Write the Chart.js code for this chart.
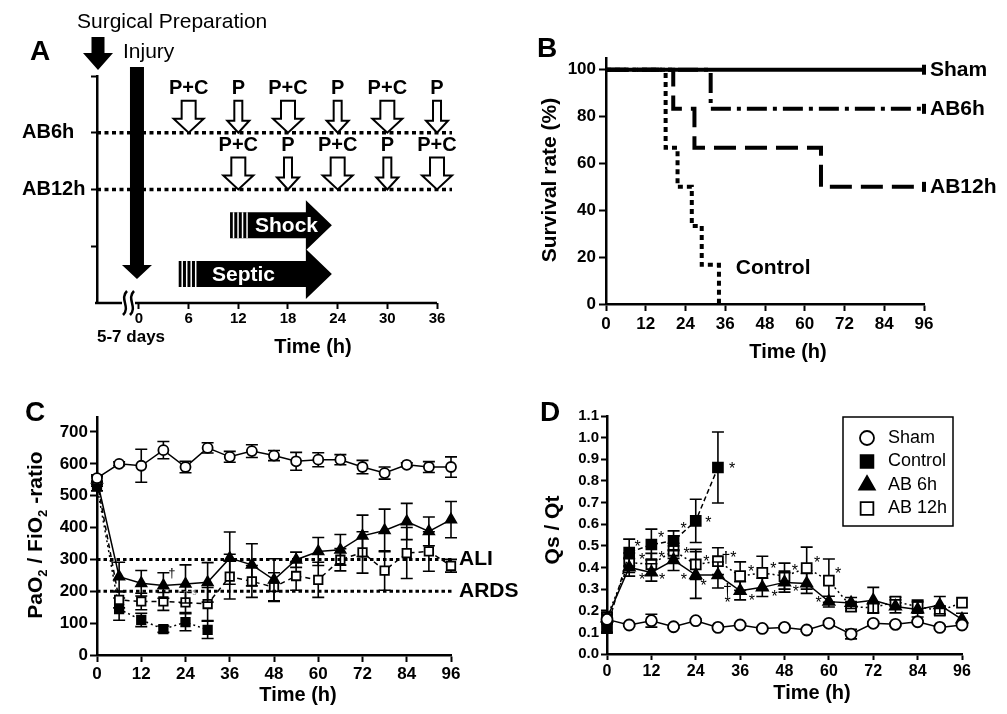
<!DOCTYPE html>
<html>
<head>
<meta charset="utf-8">
<title>Antibiotic timing: survival and lung function</title>
<script src="https://cdn.jsdelivr.net/npm/chart.js@4.4.1/dist/chart.umd.min.js"></script>
<style>
  html, body { margin: 0; padding: 0; background: #fff; }
  #page { position: relative; width: 1007px; height: 714px; overflow: hidden; background: #fff; }
  canvas { position: absolute; }
</style>
</head>
<body>
<div id="page">
  <canvas id="chartA" width="500" height="370" style="left:0;top:0"></canvas>
  <canvas id="chartB" width="507" height="370" style="left:500px;top:0"></canvas>
  <canvas id="chartC" width="530" height="344" style="left:0;top:370px"></canvas>
  <canvas id="chartD" width="507" height="344" style="left:500px;top:370px"></canvas>
</div>
<script>
// ---- panel A : protocol timeline ----
const hoursA = [0, 6, 12, 18, 24, 30, 36];
const dose6hTimes = [6, 12, 18, 24, 30, 36];
const dose6hLabels = ['P+C', 'P', 'P+C', 'P', 'P+C', 'P'];
const dose12hTimes = [12, 18, 24, 30, 36];
const dose12hLabels = ['P+C', 'P', 'P+C', 'P', 'P+C'];
const regimenNames = ['AB6h', 'AB12h'];
const regimenRows = [3, 2];
const phaseNames = ['Shock', 'Septic'];
const phaseStart = [11, 4.8];
const phaseEnd = [23.3, 23.3];
const phaseRows = [1.37, 0.51];

// ---- panel B : survival ----
const survTicksX = [0, 12, 24, 36, 48, 60, 72, 84, 96];
const survTicksY = [0, 20, 40, 60, 80, 100];
const shamSurvT = [0, 96];
const shamSurv = [100, 100];
const ab6hSurvT = [0, 31.6, 96];
const ab6hSurv = [100, 83.3, 83.3];
const ab12hSurvT = [0, 20.3, 26.7, 64.9, 96];
const ab12hSurv = [100, 83.3, 66.7, 50, 50];
const controlSurvT = [0, 18, 21.6, 25.9, 28.9, 34.1];
const controlSurv = [100, 66.7, 50, 33.3, 16.7, 0];

// ---- panels C and D : time course ----
const timesH = [0, 6, 12, 18, 24, 30, 36, 42, 48, 54, 60, 66, 72, 78, 84, 90, 96];
const ticksTime = [0, 12, 24, 36, 48, 60, 72, 84, 96];
const ticksPaO2 = [0, 100, 200, 300, 400, 500, 600, 700];
const ticksQs = [0, 0.1, 0.2, 0.3, 0.4, 0.5, 0.6, 0.7, 0.8, 0.9, 1.0, 1.1];

const shamC = [555, 600, 594, 643, 590, 650, 622, 640, 626, 608, 613, 613, 590, 571, 597, 590, 590];
const shamCErr = [10, 6, 52, 27, 18, 16, 17, 20, 16, 28, 22, 16, 21, 19, 6, 17, 32];
const ab6hC = [550, 246, 225, 218, 223, 228, 304, 283, 236, 299, 325, 330, 374, 391, 419, 388, 425];
const ab6hCErr = [15, 45, 40, 40, 60, 62, 82, 66, 66, 24, 44, 48, 65, 67, 57, 45, 57];
const ab12hC = [545, 173, 168, 168, 165, 160, 246, 231, 213, 248, 236, 299, 322, 265, 320, 325, 280];
const ab12hCErr = [15, 25, 26, 28, 32, 52, 70, 50, 45, 45, 55, 35, 65, 62, 80, 62, 20];
const controlC = [530, 144, 110, 81, 103, 79];
const controlCErr = [15, 35, 21, 10, 27, 27];
const aliLevel = 300;
const ardsLevel = 200;

const shamD = [0.16, 0.134, 0.154, 0.126, 0.154, 0.123, 0.134, 0.118, 0.123, 0.111, 0.142, 0.092, 0.142, 0.137, 0.149, 0.123, 0.134];
const shamDErr = [0.02, 0.006, 0.03, 0.006, 0.008, 0.006, 0.006, 0.006, 0.006, 0.006, 0.01, 0.022, 0.006, 0.006, 0.006, 0.006, 0.006];
const controlD = [0.12, 0.469, 0.506, 0.523, 0.615, 0.862];
const controlDErr = [0.02, 0.062, 0.071, 0.046, 0.1, 0.164];
const ab6hD = [0.165, 0.40, 0.377, 0.434, 0.365, 0.365, 0.292, 0.308, 0.331, 0.326, 0.242, 0.236, 0.248, 0.22, 0.206, 0.226, 0.16];
const ab6hDErr = [0.02, 0.04, 0.04, 0.048, 0.108, 0.06, 0.042, 0.042, 0.045, 0.046, 0.025, 0.025, 0.06, 0.03, 0.035, 0.04, 0.028];
const ab12hD = [0.17, 0.422, 0.415, 0.477, 0.414, 0.429, 0.36, 0.375, 0.36, 0.397, 0.339, 0.219, 0.213, 0.242, 0.219, 0.2, 0.237];
const ab12hDErr = [0.02, 0.045, 0.05, 0.035, 0.07, 0.062, 0.066, 0.077, 0.06, 0.097, 0.1, 0.02, 0.02, 0.02, 0.03, 0.02, 0];

// significance marks in D (hour, value, mark)
const markHours = [33.8, 27.4, 20.7, 14.6, 8.3, 9.5, 14.8, 21.5, 26.9, 33, 9.5, 14.9, 20.8, 26.1, 32.6, 32.6, 39, 39.2, 45, 45.3, 50.8, 51.1, 56.8, 57.2, 62.5];
const markValues = [0.87, 0.62, 0.595, 0.55, 0.51, 0.45, 0.46, 0.48, 0.44, 0.46, 0.36, 0.357, 0.36, 0.33, 0.31, 0.25, 0.395, 0.262, 0.41, 0.28, 0.40, 0.30, 0.435, 0.25, 0.385];
const markTexts = ['*', '*', '*', '*', '*', '*', '*', '*', '*', '\u2020*', '*', '*', '*', '*', '\u2020', '*', '*', '*', '*', '*', '*', '*', '*', '*', '*'];

const FONT = "'Liberation Sans', Arial, Helvetica, sans-serif";
Chart.defaults.font.family = FONT;
Chart.defaults.font.weight = 'bold';
Chart.defaults.color = '#000';

function text(ctx, s, x, y, size, weight, align, base, color) {
  ctx.save();
  ctx.font = (weight || 'bold') + ' ' + size + 'px ' + FONT;
  ctx.fillStyle = color || '#000';
  ctx.textAlign = align || 'center';
  ctx.textBaseline = base || 'middle';
  ctx.fillText(s, x, y);
  ctx.restore();
}

function vtext(ctx, s, x, y, size) {
  ctx.save();
  ctx.translate(x, y);
  ctx.rotate(-Math.PI / 2);
  text(ctx, s, 0, 0, size);
  ctx.restore();
}

function pts(xs, ys) {
  return ys.map((v, i) => ({ x: xs[i], y: v }));
}

function axis(min, max, tickVals, box, vertical, fontSize, tickLen, pad, cb) {
  return {
    type: 'linear', min: min, max: max,
    afterBuildTicks: s => { s.ticks = tickVals.map(v => ({ value: v })); },
    afterFit: s => { if (vertical) s.width = box; else s.height = box; },
    grid: { drawOnChartArea: false, drawTicks: true, tickLength: tickLen, tickWidth: 2, tickColor: '#000' },
    border: { display: true, color: '#000', width: 2.5 },
    ticks: { font: { size: fontSize, weight: 'bold' }, padding: pad, color: '#000', maxRotation: 0, autoSkip: false, callback: cb || (v => v) }
  };
}

function baseOptions(pad, xAxis, yAxis) {
  return {
    responsive: false, animation: false, events: [],
    layout: { padding: pad },
    plugins: { legend: { display: false }, tooltip: { enabled: false } },
    scales: { x: xAxis, y: yAxis }
  };
}

// error bars are drawn just before each dataset so its markers sit on top
const errorBars = {
  id: 'errorBars',
  beforeDatasetDraw(chart, args) {
    const ds = chart.data.datasets[args.index];
    if (!ds.errors) return;
    const ctx = chart.ctx, ys = chart.scales.y;
    ctx.save();
    ctx.strokeStyle = '#000';
    ctx.lineWidth = 1.6;
    ctx.setLineDash([]);
    args.meta.data.forEach((pt, i) => {
      const e = ds.errors[i];
      if (!e) return;
      const v = ds.data[i].y;
      const y1 = ys.getPixelForValue(v + e), y2 = ys.getPixelForValue(v - e);
      ctx.beginPath();
      ctx.moveTo(pt.x, y1); ctx.lineTo(pt.x, y2);
      ctx.moveTo(pt.x - 6, y1); ctx.lineTo(pt.x + 6, y1);
      ctx.moveTo(pt.x - 6, y2); ctx.lineTo(pt.x + 6, y2);
      ctx.stroke();
    });
    ctx.restore();
  }
};

// ---------------- A ----------------
function arrowDown(ctx, cx, top, tip, shaftW, headW, headH) {
  ctx.beginPath();
  ctx.moveTo(cx - shaftW / 2, top);
  ctx.lineTo(cx + shaftW / 2, top);
  ctx.lineTo(cx + shaftW / 2, tip - headH);
  ctx.lineTo(cx + headW / 2, tip - headH);
  ctx.lineTo(cx, tip);
  ctx.lineTo(cx - headW / 2, tip - headH);
  ctx.lineTo(cx - shaftW / 2, tip - headH);
  ctx.closePath();
}

function blockArrow(ctx, xs, xb, xh, xt, cy) {
  const bh = 26, hh = 50;
  ctx.fillStyle = '#000';
  ctx.beginPath();
  ctx.moveTo(xs, cy - bh / 2);
  ctx.lineTo(xh, cy - bh / 2);
  ctx.lineTo(xh, cy - hh / 2);
  ctx.lineTo(xt, cy);
  ctx.lineTo(xh, cy + hh / 2);
  ctx.lineTo(xh, cy + bh / 2);
  ctx.lineTo(xs, cy + bh / 2);
  ctx.closePath();
  ctx.fill();
  ctx.strokeStyle = '#fff';
  ctx.lineWidth = 1.5;
  for (let x = xs + 3.5; x <= xb; x += 4.5) {
    ctx.beginPath(); ctx.moveTo(x, cy - bh / 2); ctx.lineTo(x, cy + bh / 2); ctx.stroke();
  }
}

const timeline = {
  id: 'timeline',
  afterDatasetsDraw(chart) {
    const ctx = chart.ctx, xs = chart.scales.x, ys = chart.scales.y;
    const px = v => xs.getPixelForValue(v), py = v => ys.getPixelForValue(v);
    ctx.save();
    // x axis stops at the last hour
    ctx.strokeStyle = '#000';
    ctx.lineWidth = 2.5;
    ctx.beginPath();
    ctx.moveTo(xs.left - 2, py(0));
    ctx.lineTo(px(hoursA[hoursA.length - 1]), py(0));
    ctx.stroke();
    // axis break (5-7 days)
    const bx = 128, by = py(0);
    ctx.fillStyle = '#fff';
    ctx.fillRect(bx - 6, by - 3, 13, 6);
    ctx.lineWidth = 2.5;
    [bx - 3, bx + 4].forEach(x => {
      ctx.beginPath();
      ctx.moveTo(x + 2, by - 12);
      ctx.bezierCurveTo(x - 6, by - 4, x + 6, by + 4, x - 2, by + 12);
      ctx.stroke();
    });
    // dosing arrows
    const regimens = [[dose6hTimes, dose6hLabels, regimenRows[0]], [dose12hTimes, dose12hLabels, regimenRows[1]]];
    regimens.forEach(([times, labels, row]) => {
      times.forEach((t, i) => {
        const wide = labels[i] === 'P+C';
        const tip = py(row), cx = px(t);
        arrowDown(ctx, cx, tip - 32, tip, wide ? 14 : 8, wide ? 30 : 22, wide ? 14 : 12);
        ctx.fillStyle = '#fff'; ctx.fill();
        ctx.strokeStyle = '#000'; ctx.lineWidth = 2; ctx.stroke();
        text(ctx, labels[i], cx, tip - 44, 20);
      });
    });
    regimenNames.forEach((n, i) => text(ctx, n, 22, py(regimenRows[i]), 20, 'bold', 'left'));
    // injury and surgery arrows
    arrowDown(ctx, px(0) - 2, 67, 279, 14, 30, 14);
    ctx.fillStyle = '#000'; ctx.fill();
    arrowDown(ctx, xs.left + 1, 37, 70, 13, 30, 17);
    ctx.fillStyle = '#000'; ctx.fill();
    text(ctx, 'Surgical Preparation', 77, 22, 21, 'normal', 'left');
    text(ctx, 'Injury', 123, 52, 21, 'normal', 'left');
    // shock / septic phases
    const labelLeft = [255, 212];
    phaseNames.forEach((n, i) => {
      const x0 = px(phaseStart[i]), x3 = px(phaseEnd[i]);
      blockArrow(ctx, x0, x0 + 17, x3 - 26, x3, py(phaseRows[i]));
      text(ctx, n, labelLeft[i], py(phaseRows[i]) + 1, 21, 'bold', 'left', 'middle', '#fff');
    });
    text(ctx, 'A', 40, 52, 28);
    text(ctx, '5-7 days', 97, 337, 17, 'bold', 'left');
    text(ctx, 'Time (h)', 313, 347, 20);
    ctx.restore();
  }
};

const aXMin = -5.07, aXMax = 37.81;
const axA = axis(aXMin, aXMax, hoursA, 67, false, 15, 6, 1);
axA.border = { display: false };
const ayA = axis(0, 4, [1, 2, 3, 4], 97, true, 15, 6, 2);
ayA.ticks.display = false;

new Chart(document.getElementById('chartA'), {
  type: 'scatter',
  data: {
    datasets: regimenRows.map((r, i) => ({
      label: regimenNames[i],
      data: [{ x: aXMin, y: r }, { x: aXMax, y: r }],
      showLine: true, borderColor: '#000', borderWidth: 3.5, borderDash: [4, 3.5],
      pointRadius: 0, clip: false
    }))
  },
  options: baseOptions({ left: 0, top: 76, right: 48, bottom: 0 }, axA, ayA),
  plugins: [timeline]
});

// ---------------- B ----------------
const survLabels = {
  id: 'survLabels',
  afterDatasetsDraw(chart) {
    const ctx = chart.ctx, xs = chart.scales.x, ys = chart.scales.y;
    chart.data.datasets.forEach(ds => {
      const last = ds.data[ds.data.length - 1];
      if (ds.endLabel) text(ctx, ds.label, xs.getPixelForValue(last.x) + 6, ys.getPixelForValue(last.y), 21, 'bold', 'left');
    });
    text(ctx, 'Control', xs.getPixelForValue(39.2), ys.getPixelForValue(15.4), 21, 'bold', 'left');
    text(ctx, 'B', 47, 49, 28);
    vtext(ctx, 'Survival rate (%)', 50, 180, 21);
    text(ctx, 'Time (h)', 288, 352, 20);
  }
};

function survSet(label, t, s, dash, censored) {
  return {
    label: label, data: pts(t, s), stepped: true, showLine: true,
    borderColor: '#000', backgroundColor: '#000', borderWidth: 4, borderDash: dash, borderCapStyle: 'butt',
    pointStyle: 'line', rotation: 90,
    pointRadius: s.map((_, i) => censored && i === s.length - 1 ? 5 : 0),
    pointBorderWidth: 4, endLabel: censored, clip: false
  };
}

new Chart(document.getElementById('chartB'), {
  type: 'scatter',
  data: {
    datasets: [
      survSet('Sham', shamSurvT, shamSurv, [], true),
      survSet('AB6h', ab6hSurvT, ab6hSurv, [20, 6, 4, 6], true),
      survSet('AB12h', ab12hSurvT, ab12hSurv, [22, 9], true),
      survSet('Control', controlSurvT, controlSurv, [5, 4], false)
    ]
  },
  options: baseOptions({ left: 0, top: 58, right: 83, bottom: 0 },
    axis(0, 96, survTicksX, 66, false, 17, 7, 3),
    axis(0, 105, survTicksY, 106, true, 17, 7, 3)),
  plugins: [survLabels]
});

// ---------------- C ----------------
function series(label, xs, ys, errs, style, fill, dash, radius) {
  return {
    label: label, data: pts(xs, ys), errors: errs,
    borderColor: '#000', borderWidth: 1.5, borderDash: dash,
    pointStyle: style, pointRadius: radius, pointBackgroundColor: fill,
    pointBorderColor: '#000', pointBorderWidth: 1.8, clip: false
  };
}

function levelLine(label, level) {
  return {
    label: label, data: [{ x: 0, y: level }, { x: 96.5, y: level }],
    borderColor: '#000', borderWidth: 3, borderDash: [3.5, 3], pointRadius: 0, clip: false
  };
}

const lungLabels = {
  id: 'lungLabels',
  afterDatasetsDraw(chart) {
    const ctx = chart.ctx, xs = chart.scales.x, ys = chart.scales.y;
    text(ctx, 'ALI', xs.right + 8, ys.getPixelForValue(aliLevel), 21, 'bold', 'left');
    text(ctx, 'ARDS', xs.right + 8, ys.getPixelForValue(ardsLevel), 21, 'bold', 'left');
    text(ctx, '\u2020', xs.getPixelForValue(20.3), ys.getPixelForValue(257), 13, 'normal');
    text(ctx, 'n=5', xs.getPixelForValue(25.2), ys.getPixelForValue(195), 8, 'normal', 'center', 'middle', '#999');
    text(ctx, 'C', 35, 43, 28);
    text(ctx, 'Time (h)', 298, 325, 20);
    // y title with subscripts
    const parts = [['PaO', 21, 0], ['2', 13, 5], [' / FiO', 21, 0], ['2', 13, 5], [' -ratio', 21, 0]];
    ctx.save();
    ctx.translate(35, 165);
    ctx.rotate(-Math.PI / 2);
    let total = 0;
    parts.forEach(p => { ctx.font = 'bold ' + p[1] + 'px ' + FONT; total += ctx.measureText(p[0]).width; });
    let x = -total / 2;
    ctx.fillStyle = '#000';
    ctx.textBaseline = 'alphabetic';
    parts.forEach(p => {
      ctx.font = 'bold ' + p[1] + 'px ' + FONT;
      ctx.fillText(p[0], x, 7 + p[2]);
      x += ctx.measureText(p[0]).width;
    });
    ctx.restore();
  }
};

new Chart(document.getElementById('chartC'), {
  type: 'line',
  data: {
    datasets: [
      levelLine('ALI', aliLevel),
      levelLine('ARDS', ardsLevel),
      series('Sham', timesH, shamC, shamCErr, 'circle', '#fff', [], 5),
      series('AB 6h', timesH, ab6hC, ab6hCErr, 'triangle', '#000', [], 6),
      series('AB 12h', timesH, ab12hC, ab12hCErr, 'rect', '#fff', [5, 4], 6),
      series('Control', timesH.slice(0, controlC.length), controlC, controlCErr, 'rect', '#000', [2, 3], 6)
    ]
  },
  options: baseOptions({ left: 0, top: 47, right: 79, bottom: 0 },
    axis(0, 96, ticksTime, 59, false, 17, 7, 2),
    axis(0, 747, ticksPaO2, 97, true, 17, 7, 2)),
  plugins: [errorBars, lungLabels]
});

// ---------------- D ----------------
const shuntLabels = {
  id: 'shuntLabels',
  afterDatasetsDraw(chart) {
    const ctx = chart.ctx, xs = chart.scales.x, ys = chart.scales.y;
    markHours.forEach((h, i) => {
      text(ctx, markTexts[i], xs.getPixelForValue(h), ys.getPixelForValue(markValues[i]) + 4, 16, 'normal');
    });
    // legend box
    ctx.save();
    ctx.strokeStyle = '#000';
    ctx.lineWidth = 1.5;
    ctx.strokeRect(343, 47, 110, 109);
    chart.data.datasets.forEach((ds, i) => {
      const y = 68 + i * 23.5;
      ctx.fillStyle = ds.pointBackgroundColor;
      ctx.strokeStyle = '#000';
      ctx.lineWidth = 1.8;
      Chart.helpers.drawPoint(ctx, { pointStyle: ds.pointStyle, radius: ds.pointStyle === 'circle' ? 7 : 9, borderWidth: 1.8, rotation: 0 }, 367, y);
      text(ctx, ds.label, 388, y, 18, 'normal', 'left');
    });
    ctx.restore();
    text(ctx, 'D', 50, 43, 28);
    vtext(ctx, 'Qs / Qt', 53, 160, 21);
    text(ctx, 'Time (h)', 312, 323, 20);
  }
};

new Chart(document.getElementById('chartD'), {
  type: 'line',
  data: {
    datasets: [
      series('Sham', timesH, shamD, shamDErr, 'circle', '#fff', [], 5.5),
      series('Control', timesH.slice(0, controlD.length), controlD, controlDErr, 'rect', '#000', [5, 3], 7),
      series('AB 6h', timesH, ab6hD, ab6hDErr, 'triangle', '#000', [], 6.5),
      series('AB 12h', timesH, ab12hD, ab12hDErr, 'rect', '#fff', [2, 3], 7)
    ]
  },
  options: baseOptions({ left: 0, top: 46, right: 45, bottom: 0 },
    axis(0, 96, ticksTime, 60, false, 16, 6, 2),
    axis(0, 1.1, ticksQs, 107, true, 15, 6, 2, v => v.toFixed(1))),
  plugins: [errorBars, shuntLabels]
});
</script>
</body>
</html>
